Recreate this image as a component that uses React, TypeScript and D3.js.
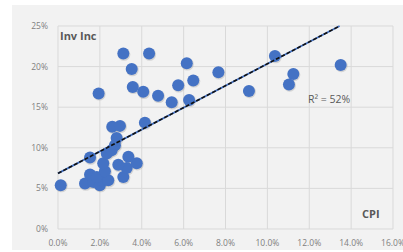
import React, { useRef, useEffect } from 'react';
import * as d3 from 'd3';

// CPI (x, %) and investment income (y, %)
const cpi = [
  0.13, 1.29, 1.69, 2.0, 2.09, 2.4, 1.53, 1.85, 2.24, 3.12, 3.28, 2.88, 2.16, 3.76,
  3.36, 1.53, 2.33, 2.56, 2.72, 2.8, 2.59, 2.96, 4.15, 1.94, 3.12, 4.35, 3.52, 3.57,
  4.07, 4.78, 5.43, 5.74, 6.15, 6.46, 6.26, 7.66, 9.12, 10.36, 11.24, 11.03, 13.5,
];
const invInc = [
  5.4, 5.6, 5.8, 5.4, 6.0, 6.0, 6.7, 6.4, 7.1, 6.4, 7.5, 7.9, 8.1, 8.1,
  8.9, 8.8, 9.3, 9.7, 10.3, 11.2, 12.6, 12.7, 13.1, 16.7, 21.6, 21.6, 19.7, 17.5,
  16.9, 16.4, 15.6, 17.7, 20.4, 18.3, 15.9, 19.3, 17.0, 21.3, 19.1, 17.8, 20.2,
];
const trendX = [0, 13.45];
const trendY = [6.85, 25];
const xTicks = [0, 2, 4, 6, 8, 10, 12, 14, 16];
const yTicks = [0, 5, 10, 15, 20, 25];

const App = () => {
  const ref = useRef<SVGSVGElement>(null);

  useEffect(() => {
    const width = 403;
    const height = 252;
    const svg = d3.select(ref.current);
    svg.selectAll('*').remove();
    svg.attr('width', width).attr('height', height);

    svg.append('rect')
      .attr('x', 12).attr('y', 5)
      .attr('width', width - 12).attr('height', 245)
      .attr('fill', '#f2f2f2');

    const x = d3.scaleLinear().domain([0, 16]).range([58, 393]);
    const y = d3.scaleLinear().domain([0, 25]).range([229, 26]);

    const g = svg.append('g');

    g.selectAll('line.v')
      .data(xTicks)
      .join('line')
      .attr('x1', d => x(d)).attr('x2', d => x(d))
      .attr('y1', y(0)).attr('y2', y(25))
      .attr('stroke', '#d9d9d9').attr('stroke-width', 1);

    g.selectAll('line.h')
      .data(yTicks)
      .join('line')
      .attr('x1', x(0)).attr('x2', x(16))
      .attr('y1', d => y(d)).attr('y2', d => y(d))
      .attr('stroke', '#d9d9d9').attr('stroke-width', 1);

    svg.append('g')
      .selectAll('text')
      .data(xTicks)
      .join('text')
      .attr('x', d => x(d))
      .attr('y', 246)
      .attr('text-anchor', 'middle')
      .attr('font-family', 'Open Sans, sans-serif')
      .attr('font-size', 8.5)
      .attr('fill', '#7f7f7f')
      .text(d => d.toFixed(1) + '%');

    svg.append('g')
      .selectAll('text')
      .data(yTicks)
      .join('text')
      .attr('x', 48)
      .attr('y', d => y(d) + 3)
      .attr('text-anchor', 'end')
      .attr('font-family', 'Open Sans, sans-serif')
      .attr('font-size', 8.5)
      .attr('fill', '#7f7f7f')
      .text(d => d + '%');

    const pts = cpi.map((c, i) => [c, invInc[i]]);

    svg.append('g')
      .selectAll('circle')
      .data(pts)
      .join('circle')
      .attr('cx', d => x(d[0]) + 0.7)
      .attr('cy', d => y(d[1]) + 0.9)
      .attr('r', 6.3)
      .attr('fill', '#9a9a9a')
      .attr('opacity', 0.35);

    svg.append('g')
      .selectAll('circle')
      .data(pts)
      .join('circle')
      .attr('cx', d => x(d[0]))
      .attr('cy', d => y(d[1]))
      .attr('r', 6)
      .attr('fill', '#4472c4');

    const line = d3.line<number>()
      .x(d => x(d))
      .y((d, i) => y(trendY[i]));

    svg.append('path')
      .attr('d', line(trendX))
      .attr('fill', 'none')
      .attr('stroke', '#4472c4')
      .attr('stroke-width', 1.8);

    svg.append('path')
      .attr('d', line(trendX))
      .attr('fill', 'none')
      .attr('stroke', '#111')
      .attr('stroke-width', 1.6)
      .attr('stroke-dasharray', '4,2');

    svg.append('text')
      .attr('x', 60).attr('y', 40)
      .attr('font-family', 'Open Sans, sans-serif')
      .attr('font-size', 11)
      .attr('font-weight', 'bold')
      .attr('fill', '#595959')
      .text('Inv Inc');

    svg.append('text')
      .attr('x', 362).attr('y', 218)
      .attr('font-family', 'Open Sans, sans-serif')
      .attr('font-size', 11)
      .attr('font-weight', 'bold')
      .attr('fill', '#595959')
      .text('CPI');

    svg.append('text')
      .attr('x', 308).attr('y', 103)
      .attr('font-family', 'Open Sans, sans-serif')
      .attr('font-size', 10.5)
      .attr('fill', '#595959')
      .text('R² = 52%');
  }, []);

  return (
    <svg ref={ref} style={{ position: 'absolute', left: 0, top: 0 }}></svg>
  );
};

export default App;
